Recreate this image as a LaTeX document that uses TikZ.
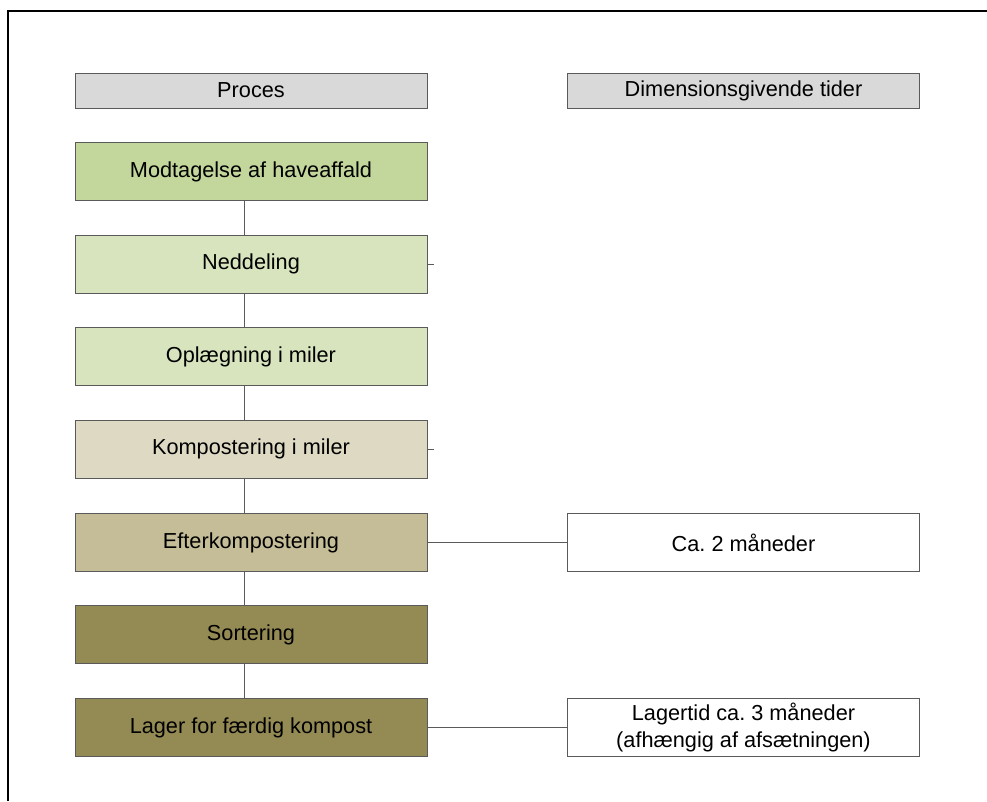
\documentclass[tikz,border=0pt]{standalone}
\usepackage{fontspec}
\setmainfont{Liberation Sans}
\frenchspacing
\definecolor{hdr}{HTML}{D9D9D9}
\definecolor{cA}{HTML}{C3D69B}
\definecolor{cB}{HTML}{D7E4BD}
\definecolor{cC}{HTML}{DDD9C3}
\definecolor{cD}{HTML}{C4BD97}
\definecolor{cE}{HTML}{948A54}
\definecolor{edge}{HTML}{5A5A5A}
\begin{document}
\begin{tikzpicture}[x=1pt,y=-1pt,
  box/.style={draw=edge,line width=1pt,minimum width=352pt,minimum height=58pt,inner sep=0pt,
    align=center,font=\fontsize{21.7pt}{27pt}\selectfont\frenchspacing},
  headbox/.style={box,fill=hdr,minimum height=35pt},
  link/.style={draw=edge,line width=1pt}]
\useasboundingbox (0,0) rectangle (987,801);
\fill[white] (0,0) rectangle (987,801);
\draw[line width=2pt] (8,801) -- (8,11) -- (987,11);
\node[headbox] (h1) at (251,90.5) {Proces};
\node[headbox] (h2) at (743.5,90.5) {Dimensionsgivende tider};
\node[box,fill=cA] (b1) at (251,171.5) {Modtagelse af haveaffald};
\node[box,fill=cB] (b2) at (251,264) {Neddeling};
\node[box,fill=cB] (b3) at (251,356.5) {Oplægning i miler};
\node[box,fill=cC] (b4) at (251,449) {Kompostering i miler};
\node[box,fill=cD] (b5) at (251,542.5) {Efterkompostering};
\node[box,fill=cE] (b6) at (251,634.5) {Sortering};
\node[box,fill=cE] (b7) at (251,727.5) {Lager for færdig kompost};
\node[box,fill=white] (r5) at (743.5,542.5) {Ca. 2 måneder};
\node[box,fill=white] (r7) at (743.5,727.5) {Lagertid ca. 3 måneder\\(afhængig af afsætningen)};
\coordinate (xc) at (244.5,0);
\foreach \a/\b in {b1/b2,b2/b3,b3/b4,b4/b5,b5/b6,b6/b7}
  \draw[link] (\a.south -| xc) -- (\b.north -| xc);
\coordinate (s2) at ([xshift=6pt]b2.east);
\coordinate (s4) at ([xshift=6pt]b4.east);
\draw[link] (b2.east) -- (s2);
\draw[link] (b4.east) -- (s4);
\draw[link] (b5.east) -- (r5.west);
\draw[link] (b7.east) -- (r7.west);
\end{tikzpicture}
\end{document}
